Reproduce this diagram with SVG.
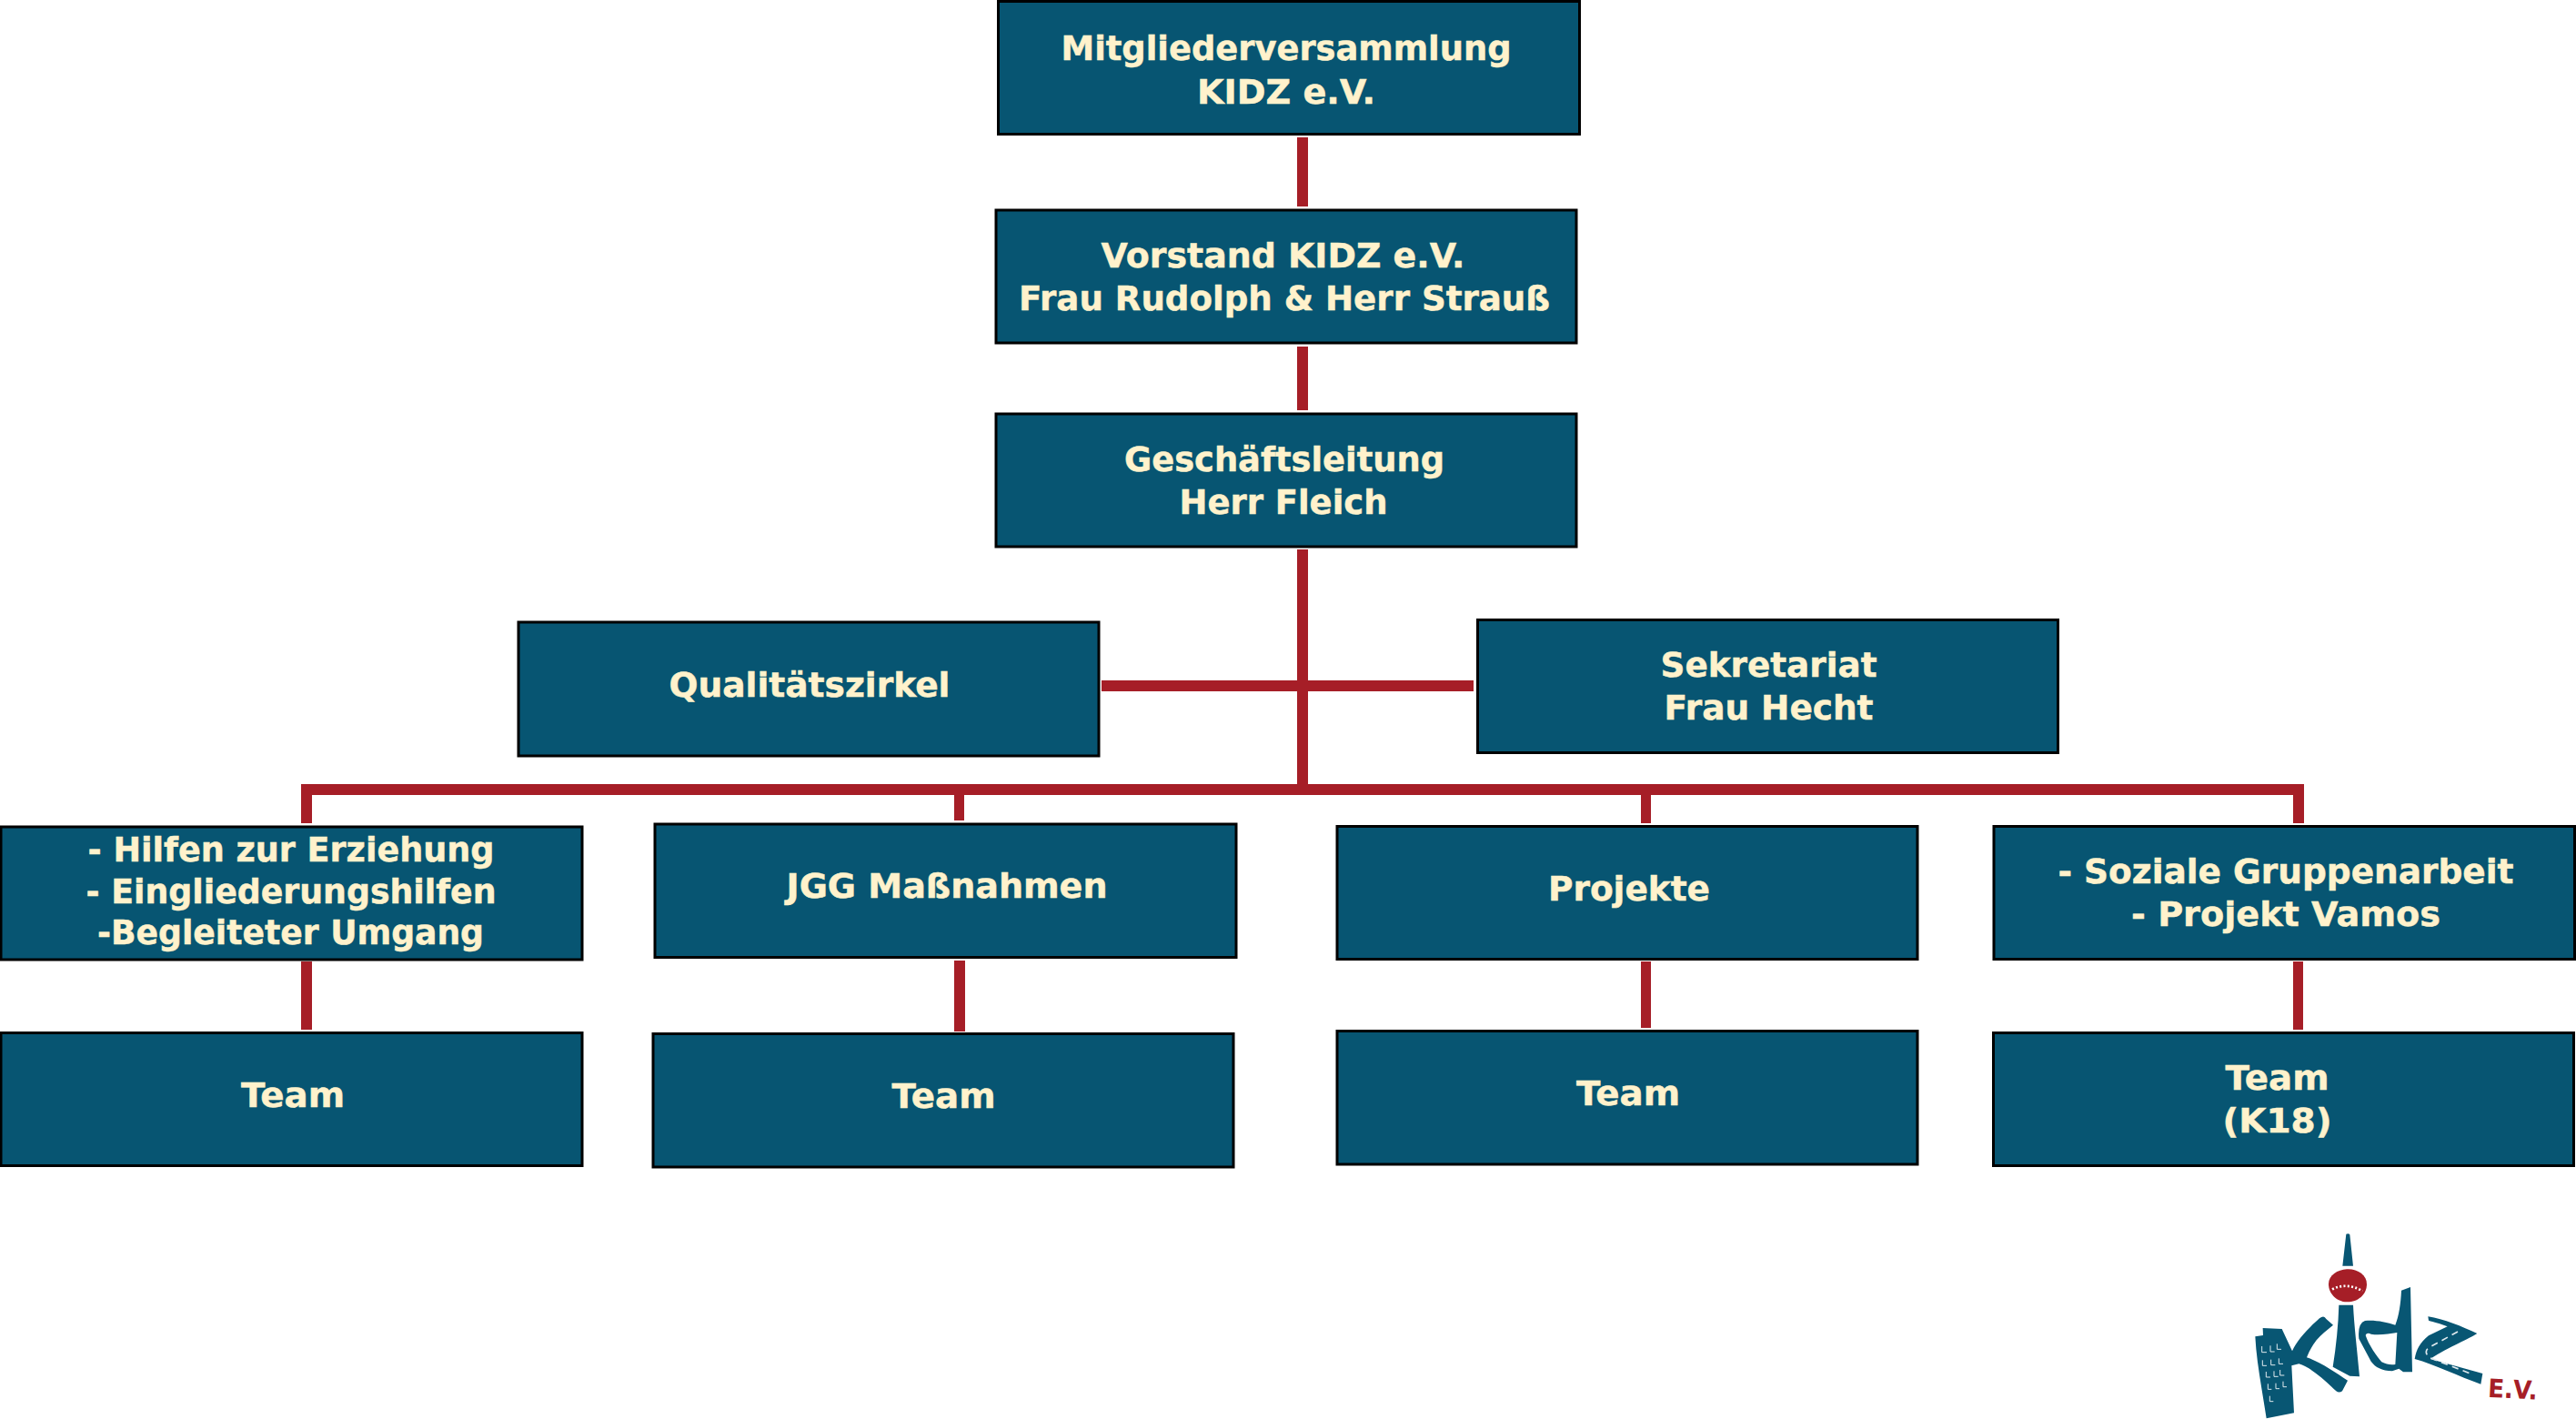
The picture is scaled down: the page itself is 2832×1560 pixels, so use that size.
<svg xmlns="http://www.w3.org/2000/svg" width="2832" height="1560" viewBox="0 0 2832 1560">
<style>
.b{fill:#075572;stroke:#000;stroke-width:3}
.t{font-family:"DejaVu Sans",sans-serif;font-weight:700;font-size:38px;fill:#fff2cc;stroke:#fff2cc;stroke-width:.5;text-anchor:middle}
.c{fill:#a61e27}
.w{fill:none;stroke:#dfe9ee;stroke-width:3}
</style>
<rect width="2832" height="1560" fill="#fff"/>
<g id="connectors">
<rect class="c" x="1426" y="151" width="12" height="76"/>
<rect class="c" x="1426" y="381" width="12" height="70"/>
<rect class="c" x="1426" y="604" width="12" height="269"/>
<rect class="c" x="1211" y="748" width="409" height="12"/>
<rect class="c" x="331" y="862" width="2202" height="12"/>
<rect class="c" x="331" y="862" width="12" height="43"/>
<rect class="c" x="1049" y="874" width="11" height="28"/>
<rect class="c" x="1804" y="874" width="11" height="31"/>
<rect class="c" x="2521" y="862" width="12" height="43"/>
<rect class="c" x="331" y="1057" width="12" height="75"/>
<rect class="c" x="1049" y="1056" width="12" height="78"/>
<rect class="c" x="1804" y="1057" width="11" height="73"/>
<rect class="c" x="2521" y="1057" width="11" height="75"/>
</g>
<g id="n1"><rect class="b" x="1097.5" y="1.5" width="639" height="146"/><text class="t" x="1414" y="66" textLength="495" lengthAdjust="spacingAndGlyphs">Mitgliederversammlung</text><text class="t" x="1414" y="114" textLength="196" lengthAdjust="spacingAndGlyphs">KIDZ e.V.</text></g>
<g id="n2"><rect class="b" x="1095" y="231" width="638" height="146"/><text class="t" x="1410.5" y="294" textLength="400" lengthAdjust="spacingAndGlyphs">Vorstand KIDZ e.V.</text><text class="t" x="1412" y="341" textLength="584" lengthAdjust="spacingAndGlyphs">Frau Rudolph &amp; Herr Strauß</text></g>
<g id="n3"><rect class="b" x="1095" y="455" width="638" height="146"/><text class="t" x="1412" y="517.500" textLength="352" lengthAdjust="spacingAndGlyphs">Geschäftsleitung</text><text class="t" x="1411" y="565" textLength="229" lengthAdjust="spacingAndGlyphs">Herr Fleich</text></g>
<g id="n4"><rect class="b" x="570" y="684" width="638" height="147"/><text class="t" x="890" y="766" textLength="309" lengthAdjust="spacingAndGlyphs">Qualitätszirkel</text></g>
<g id="n5"><rect class="b" x="1624.5" y="681.5" width="638" height="146"/><text class="t" x="1944.5" y="744" textLength="238" lengthAdjust="spacingAndGlyphs">Sekretariat</text><text class="t" x="1944.5" y="791" textLength="230" lengthAdjust="spacingAndGlyphs">Frau Hecht</text></g>
<g id="n6"><rect class="b" x="1" y="909" width="639" height="146"/><text class="t" x="320" y="947" textLength="447" lengthAdjust="spacingAndGlyphs">- Hilfen zur Erziehung</text><text class="t" x="320" y="993" textLength="451" lengthAdjust="spacingAndGlyphs">- Eingliederungshilfen</text><text class="t" x="319.5" y="1038" textLength="425" lengthAdjust="spacingAndGlyphs">-Begleiteter Umgang</text></g>
<g id="n7"><rect class="b" x="720" y="906" width="639" height="146.500"/><text class="t" x="1041" y="987" textLength="353" lengthAdjust="spacingAndGlyphs">JGG Maßnahmen</text></g>
<g id="n8"><rect class="b" x="1470" y="908.500" width="638" height="146"/><text class="t" x="1791" y="990" textLength="178" lengthAdjust="spacingAndGlyphs">Projekte</text></g>
<g id="n9"><rect class="b" x="2192" y="908.500" width="638.500" height="146"/><text class="t" x="2513" y="971" textLength="501" lengthAdjust="spacingAndGlyphs">- Soziale Gruppenarbeit</text><text class="t" x="2513" y="1018" textLength="340" lengthAdjust="spacingAndGlyphs">- Projekt Vamos</text></g>
<g id="n10"><rect class="b" x="1" y="1135.500" width="639" height="146"/><text class="t" x="322" y="1217" textLength="114" lengthAdjust="spacingAndGlyphs">Team</text></g>
<g id="n11"><rect class="b" x="718" y="1136.500" width="638" height="146.500"/><text class="t" x="1037.500" y="1218" textLength="114" lengthAdjust="spacingAndGlyphs">Team</text></g>
<g id="n12"><rect class="b" x="1470" y="1133.500" width="638" height="146.500"/><text class="t" x="1790" y="1215" textLength="114" lengthAdjust="spacingAndGlyphs">Team</text></g>
<g id="n13"><rect class="b" x="2191.500" y="1135.500" width="638" height="146"/><text class="t" x="2503.500" y="1198" textLength="114" lengthAdjust="spacingAndGlyphs">Team</text><text class="t" x="2503.500" y="1245" textLength="120" lengthAdjust="spacingAndGlyphs">(K18)</text></g>
<g id="logo" transform="translate(2440 1340) scale(.33333)">
<path fill="#085673" fill-rule="evenodd" d="M418 50Q426 46 430 52L441 155H406ZM394 284 L441 284C444 350 455 440 462 520L430 518 374 488C385 420 392 350 394 284ZM118 388 144 384 143 360 206 363 240 436C258 395 300 355 330 328Q345 316 352 330L375 350 345 375C320 395 300 425 288 457C330 470 380 505 423 533L405 568Q395 575 385 568C340 525 300 490 262 478L238 484 246 640 155 658C140 560 122 470 118 388ZM600 236 630 225 636 505 606 505 592 494 570 502C535 500 515 490 500 470L460 395Q455 345 480 336C510 332 550 340 580 350C592 320 598 280 600 236ZM500 380C490 375 485 378 482 384 492 415 520 455 535 472 550 480 565 482 580 480L586 375C560 378 530 385 500 380ZM688 322C740 330 800 355 850 378 825 395 760 420 695 462L868 510 862 545C790 520 710 480 644 462 650 430 660 410 690 385L752 355C730 345 705 340 690 335Z"/>
<path fill="#a61e27" d="M420 166C455 164 486 185 486 215 486 250 455 275 420 274 385 273 360 245 360 215 360 185 390 168 420 166Z"/>
<path d="M372 232Q420 208 472 238" stroke="#fff" stroke-width="8" stroke-dasharray="6 7" fill="none"/>
<path class="w" d="M140 420v20h16M168 418v20h14M190 412v18h14M142 466v18h14M170 464v18h14M196 460v18h14M154 504v18h14M180 502v18h14M200 498v18h14M160 544v18h12M186 542v18h12M210 536v18h12M166 584v18h12"/>
<path d="M786 372 690 425Q672 440 694 458L832 512" fill="none" stroke="#dfe9ee" stroke-width="5" stroke-dasharray="22 16"/>
<text x="884" y="587" transform="rotate(3 884 587)" font-family="'DejaVu Sans',sans-serif" font-weight="700" font-size="84" textLength="164" lengthAdjust="spacingAndGlyphs" fill="#a61e27">E.V.</text>
</g>
</svg>
